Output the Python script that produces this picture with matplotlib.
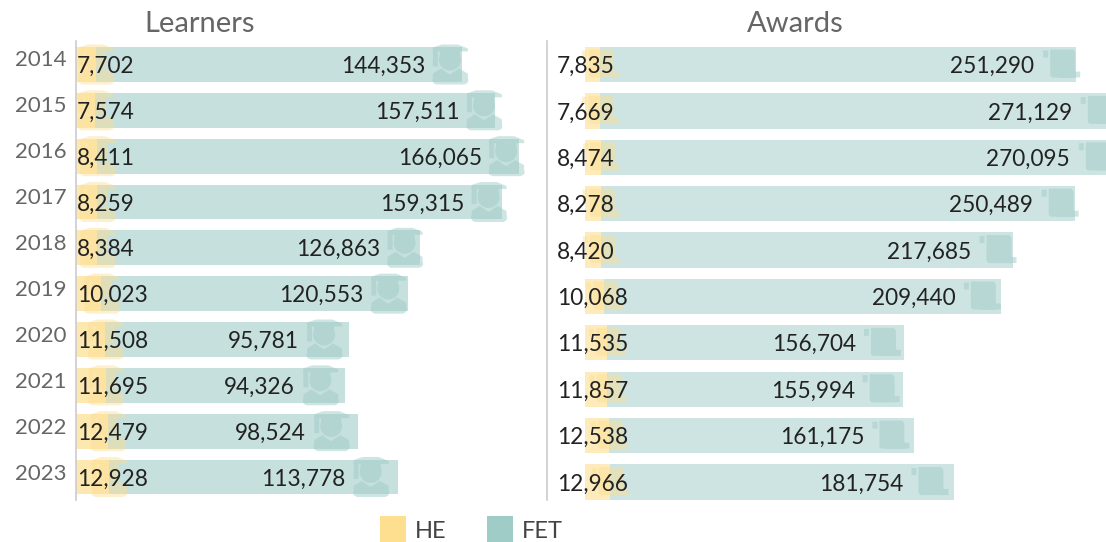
import matplotlib
matplotlib.use("Agg")
import matplotlib.pyplot as plt
from matplotlib.patches import Rectangle, PathPatch
from matplotlib.path import Path
from matplotlib.transforms import IdentityTransform

years = [2014, 2015, 2016, 2017, 2018, 2019, 2020, 2021, 2022, 2023]
learners_he = [7702, 7574, 8411, 8259, 8384, 10023, 11508, 11695, 12479, 12928]
learners_fet = [144353, 157511, 166065, 159315, 126863, 120553, 95781, 94326, 98524, 113778]
awards_he = [7835, 7669, 8474, 8278, 8420, 10068, 11535, 11857, 12538, 12966]
awards_fet = [251290, 271129, 270095, 250489, 217685, 209440, 156704, 155994, 161175, 181754]

HE_COLOR = "#fddf8f"
FET_COLOR = "#a0ccc8"
GREY = "#666666"
W, H = 1106, 542

plt.rcParams["font.family"] = ["Lato", "DejaVu Sans"]
fig = plt.figure(figsize=(W / 100, H / 100), dpi=100)
px = IdentityTransform()


def add_axes(left, right, top, bottom):
	return fig.add_axes([left / W, 1 - bottom / H, (right - left) / W, (bottom - top) / H])


def box(x0, x1, y0, y1):
	# counter clockwise, so overlapping parts of a compound path stay filled
	return Path([(x0, y0), (x1, y0), (x1, y1), (x0, y1), (x0, y0)], closed=True)


def draw_icon(parts, color, alpha):
	path = Path.make_compound_path(*parts)
	fig.add_artist(PathPatch(path, transform=px, facecolor=color, edgecolor="none", alpha=alpha))


def grad_icon(cx, cy, color, alpha):
	y = H - cy
	parts = [
		Path([(cx - 17, y + 13), (cx + 18, y + 13), (cx + 18, y + 16), (cx + 8, y + 20), (cx - 8, y + 20), (cx - 17, y + 17), (cx - 17, y + 13)], closed=True),
		box(cx - 17, cx - 12, y - 2, y + 15),
		box(cx - 10, cx + 10, y + 3, y + 15),
		Path.circle((cx, y + 5), 11),
		# shoulders with a notch under the chin
		Path([(cx - 17, y - 16), (cx + 18, y - 16), (cx + 18, y - 9), (cx + 9, y - 4), (cx, y - 10), (cx - 9, y - 4), (cx - 17, y - 9), (cx - 17, y - 16)], closed=True),
		box(cx - 14, cx + 15, y - 20, y - 14),
		Path.circle((cx - 14, y - 16), 3.5),
		Path.circle((cx + 15, y - 16), 3.5),
	]
	draw_icon(parts, color, alpha)


def scroll_icon(cx, cy, color, alpha):
	y = H - cy
	parts = [
		box(cx - 18, cx - 13, y + 7, y + 14),
		Path([(cx - 9, y - 13), (cx + 14, y - 13), (cx + 14, y + 12), (cx + 12, y + 15), (cx - 11, y + 15), (cx - 11, y - 11), (cx - 9, y - 13)], closed=True),
		box(cx - 3, cx + 19, y - 13, y - 7),
	]
	draw_icon(parts, color, alpha)


def panel(ax, he, fet, icon, bar_alpha, he_alpha, he_x, fet_slope, fet_base, fet_icon_scale):
	ax.barh(range(len(years)), fet, left=he, height=0.76, color=FET_COLOR, alpha=bar_alpha, linewidth=0)
	ax.barh(range(len(years)), he, height=0.76, color=HE_COLOR, alpha=he_alpha, linewidth=0)
	ax.axis("off")
	fig.canvas.draw()
	for i in range(len(years)):
		x0, yc = ax.transData.transform((0, i))
		xh = ax.transData.transform((he[i], i))[0]
		row_y = H - yc
		icon(xh, row_y, HE_COLOR, 0.45)
		icon(x0 + fet[i] / 1000 * fet_icon_scale, row_y, FET_COLOR, 0.5)
		fig.text(he_x / W, 1 - row_y / H, f"{he[i]:,}", fontsize=16.3, color="#222222", ha="left", va="center_baseline")
		right = fet_base + fet_slope * fet[i] / 1000
		fig.text(right / W, 1 - row_y / H, f"{fet[i]:,}", fontsize=16.3, color="#222222", ha="right", va="center_baseline")


ax1 = add_axes(76, 540, 42, 500)
ax1.set_xlim(0, 464 / 2.54 * 1000)
ax1.set_ylim((500 - 64.5) / 45.83, (42 - 64.5) / 45.83)
panel(ax1, learners_he, learners_fet, grad_icon, 0.6, 0.7, 77, 2.607, 49, 2.59)

ax2 = add_axes(585, 1106, 42, 500)
ax2.set_xlim(0, 521 / 1.895 * 1000)
ax2.set_ylim((500 - 64.5) / 46.39, (42 - 64.5) / 46.39)
panel(ax2, awards_he, awards_fet, scroll_icon, 0.52, 0.6, 557, 1.88, 562, 1.895)

for x in (76, 547):
	fig.add_artist(plt.Line2D([x, x], [H - 41, H - 500], transform=px, color="#cccccc", linewidth=1.2))

for i, year in enumerate(years):
	fig.text(67 / W, 1 - (58.5 + i * 45.9) / H, str(year), fontsize=16, color=GREY, ha="right", va="center_baseline")

fig.text(199.5 / W, 1 - 22 / H, "Learners", fontsize=21, color=GREY, ha="center", va="center_baseline")
fig.text(795 / W, 1 - 22 / H, "Awards", fontsize=21, color=GREY, ha="center", va="center_baseline")

for x, color, label in [(380, HE_COLOR, "HE"), (487, FET_COLOR, "FET")]:
	fig.add_artist(Rectangle((x, H - 542), 26, 26, transform=px, facecolor=color, edgecolor="none"))
	fig.text((x + 35) / W, 1 - 530 / H, label, fontsize=17, color="#444444", ha="left", va="center_baseline")

fig.savefig("out.png", dpi=100)
